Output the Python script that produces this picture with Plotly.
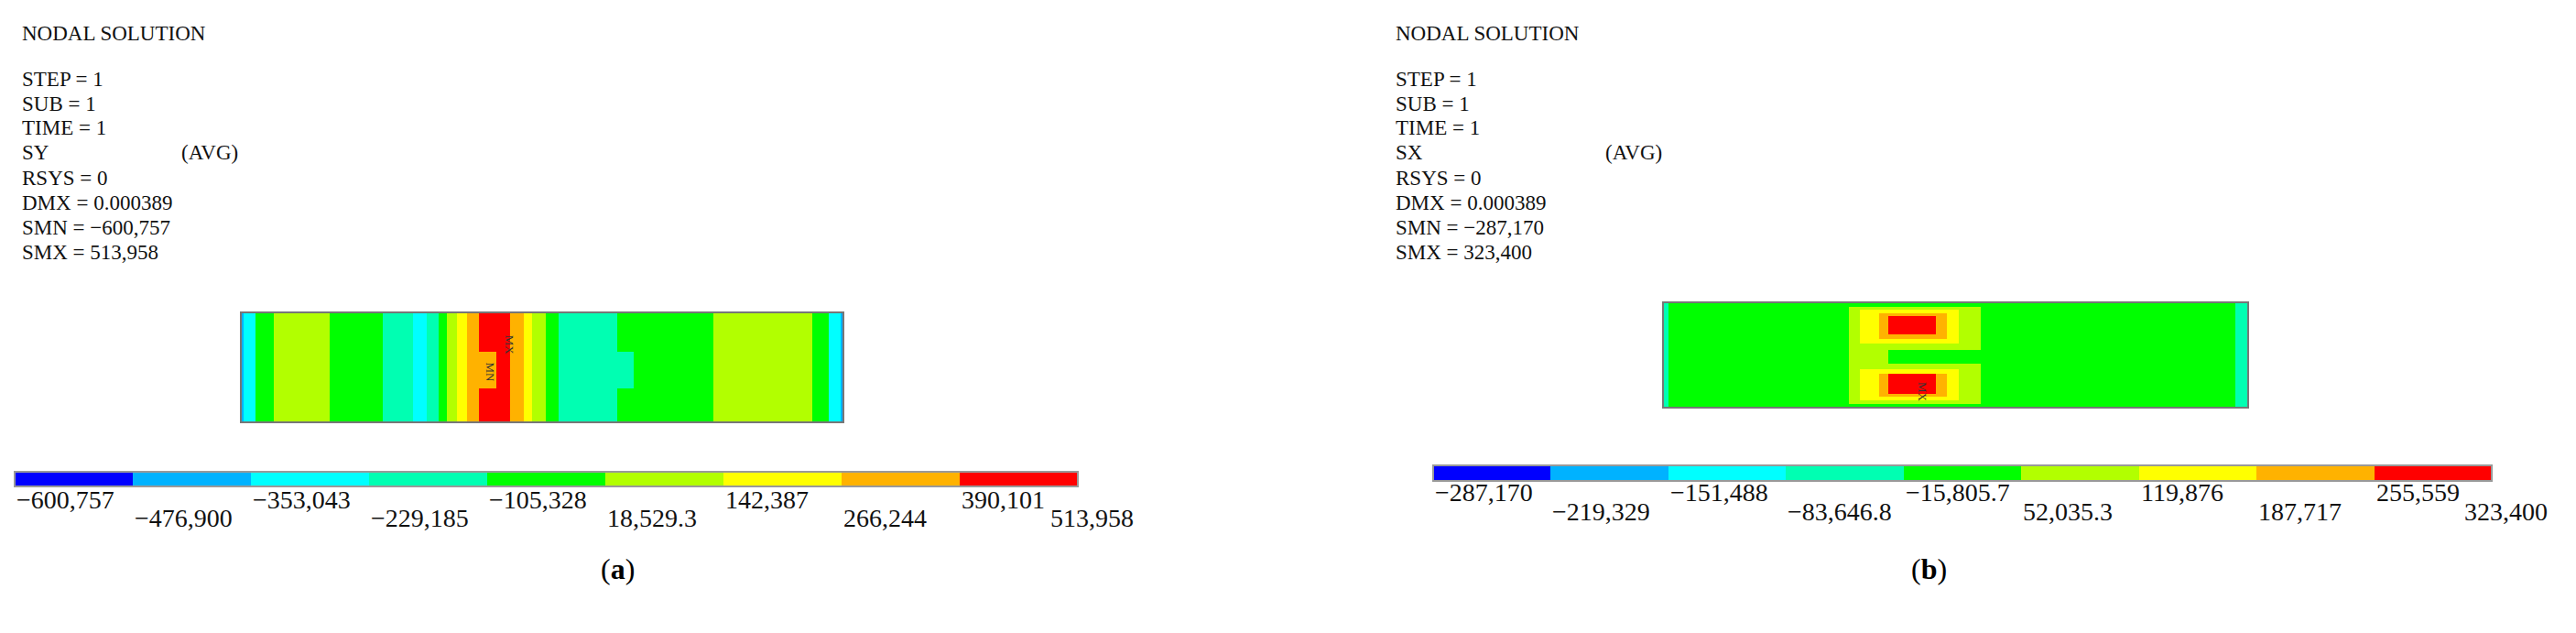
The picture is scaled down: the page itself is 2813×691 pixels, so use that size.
import plotly.graph_objects as go

W, H = 2813, 691
COLORS = ["#0000FF", "#00B2FF", "#00FFFF", "#00FFB2", "#00FF00",
          "#B2FF00", "#FFFF00", "#FFB200", "#FF0000"]

# --- panel (a): SY ---
info_a = ["STEP = 1", "SUB = 1", "TIME = 1", "SY", "RSYS = 0",
          "DMX = 0.000389", "SMN = \u2212600,757", "SMX = 513,958"]
labels_a = ["\u2212600,757", "\u2212476,900", "\u2212353,043", "\u2212229,185", "\u2212105,328",
            "18,529.3", "142,387", "266,244", "390,101", "513,958"]
xedges_a = [12, 18, 48, 95, 235, 370, 445, 480, 510, 530, 555, 580, 610, 655, 690,
            725, 745, 780, 812, 960, 1000, 1200, 1450, 1490, 1522, 1528]
yedges_a = [0, 0.36, 0.69, 1]
outer_a = [1, 2, 4, 5, 4, 3, 2, 3, 4, 5, 6, 7, 8, 8, 7, 6, 5, 4, 3, 4, 4, 5, 4, 2, 1]
middle_a = [1, 2, 4, 5, 4, 3, 2, 3, 4, 5, 6, 7, 7, 8, 7, 6, 5, 4, 3, 3, 4, 5, 4, 2, 1]
z_a = [outer_a, middle_a, outer_a]

# --- panel (b): SX ---
info_b = ["STEP = 1", "SUB = 1", "TIME = 1", "SX", "RSYS = 0",
          "DMX = 0.000389", "SMN = \u2212287,170", "SMX = 323,400"]
labels_b = ["\u2212287,170", "\u2212219,329", "\u2212151,488", "\u221283,646.8", "\u221215,805.7",
            "52,035.3", "119,876", "187,717", "255,559", "323,400"]
xedges_b = [20, 35, 510, 540, 590, 615, 740, 770, 800, 860, 1530, 1565]
yedges_b = [35, 50, 60, 70, 80, 140, 155, 170, 190, 235, 255, 270, 335, 345, 355, 368, 380]
g = [3, 4, 4, 4, 4, 4, 4, 4, 4, 4, 3]
r1 = [3, 4, 5, 5, 5, 5, 5, 5, 5, 4, 3]
r2 = [3, 4, 5, 6, 6, 6, 6, 6, 5, 4, 3]
r3 = [3, 4, 5, 6, 7, 7, 7, 6, 5, 4, 3]
r4 = [3, 4, 5, 6, 7, 8, 7, 6, 5, 4, 3]
notch = [3, 4, 5, 5, 5, 4, 4, 4, 4, 4, 3]
z_b = [g, r1, r2, r3, r4, r3, r2, r1, notch, r1, r2, r4, r3, r2, r1, g]

fig = go.Figure()
cs = []
for i, c in enumerate(COLORS):
    cs += [[i / 9, c], [(i + 1) / 9, c]]

def px_x(v): return v / W
def px_y(v): return 1 - v / H

panels = [
    dict(z=z_a, xe=xedges_a, ye=yedges_a, cx=(255, 913), cy=(333, 453),
         bx=(8, 1169), by=(507, 523), ly=(-0.9, -2.15), tx=14, avg=188, info=info_a,
         labels=labels_a, cap="(a)", capx=646, mx=[(690, 0.30, "MX"), (642, 0.55, "MN")]),
    dict(z=z_b, xe=xedges_b, ye=yedges_b, cx=(1808, 2447), cy=(322, 437),
         bx=(1557, 2713), by=(500, 517), ly=(-0.75, -1.95), tx=1514, avg=1743, info=info_b,
         labels=labels_b, cap="(b)", capx=2120, mx=[(705, 330, "MX")]),
]

for k, p in enumerate(panels):
    n = 2 * k + 1
    xa, ya = f"x{n}" if n > 1 else "x", f"y{n}" if n > 1 else "y"
    fig.add_trace(go.Heatmap(z=p["z"], x=p["xe"], y=p["ye"], colorscale=cs, zmin=-0.5, zmax=8.5,
                             showscale=False, xaxis=xa, yaxis=ya, hoverinfo="skip"))
    fig.layout[f"xaxis{n}" if n > 1 else "xaxis"] = dict(
        domain=[px_x(p["cx"][0]), px_x(p["cx"][1])], range=[p["xe"][0], p["xe"][-1]],
        visible=False, anchor=ya)
    fig.layout[f"yaxis{n}" if n > 1 else "yaxis"] = dict(
        domain=[px_y(p["cy"][1]), px_y(p["cy"][0])], range=[p["ye"][-1], p["ye"][0]],
        visible=False, anchor=xa)
    for (mxx, myy, t) in p["mx"]:
        fig.add_annotation(x=mxx, y=myy, xref=xa, yref=ya, text=t, textangle=90, showarrow=False,
                           font=dict(family="Liberation Serif", size=13, color="#333"))
    fig.add_shape(type="rect", xref=f"{xa} domain", yref=f"{ya} domain", x0=0, x1=1, y0=0, y1=1,
                  line=dict(color="#777", width=2))
    m = n + 1
    xb, yb = f"x{m}", f"y{m}"
    fig.add_trace(go.Heatmap(z=[list(range(9))], x=list(range(10)), y=[0, 1], colorscale=cs,
                             zmin=-0.5, zmax=8.5, showscale=False, xaxis=xb, yaxis=yb,
                             hoverinfo="skip"))
    fig.layout[f"xaxis{m}"] = dict(domain=[px_x(p["bx"][0]), px_x(p["bx"][1])], range=[0, 9],
                                   visible=False, anchor=yb)
    fig.layout[f"yaxis{m}"] = dict(domain=[px_y(p["by"][1]), px_y(p["by"][0])], range=[0, 1],
                                   visible=False, anchor=xb)
    fig.add_shape(type="rect", xref=f"{xb} domain", yref=f"{yb} domain", x0=0, x1=1, y0=0, y1=1,
                  line=dict(color="#999", width=2))
    for i, lab in enumerate(p["labels"]):
        fig.add_annotation(x=min(i, 8.75) / 9, y=p["ly"][i % 2],
                           xref=f"{xb} domain", yref=f"{yb} domain",
                           text=lab, showarrow=False, xanchor="left", yanchor="middle",
                           font=dict(family="Liberation Serif", size=28, color="#111"))
    fig.add_annotation(x=px_x(p["tx"]), y=px_y(28), xref="paper", yref="paper",
                       text="NODAL SOLUTION", showarrow=False, xanchor="left", yanchor="middle",
                       font=dict(family="Liberation Serif", size=23, color="#111"))
    for j, line in enumerate(p["info"]):
        fig.add_annotation(x=px_x(p["tx"]), y=px_y(78 + 27 * j), xref="paper", yref="paper",
                           text=line, showarrow=False, xanchor="left", yanchor="middle",
                           font=dict(family="Liberation Serif", size=23, color="#111"))
    fig.add_annotation(x=px_x(p["avg"]), y=px_y(78 + 27 * 3), xref="paper", yref="paper",
                       text="(AVG)", showarrow=False, xanchor="left", yanchor="middle",
                       font=dict(family="Liberation Serif", size=23, color="#111"))
    fig.add_annotation(x=px_x(p["capx"]), y=px_y(633), xref="paper", yref="paper",
                       text="(<b>" + p["cap"][1] + "</b>)", showarrow=False,
                       font=dict(family="Liberation Serif", size=32, color="#000"))

fig.update_layout(width=W, height=H, margin=dict(l=0, r=0, t=0, b=0),
                  paper_bgcolor="white", plot_bgcolor="white", showlegend=False)
fig.write_html("out.html")
